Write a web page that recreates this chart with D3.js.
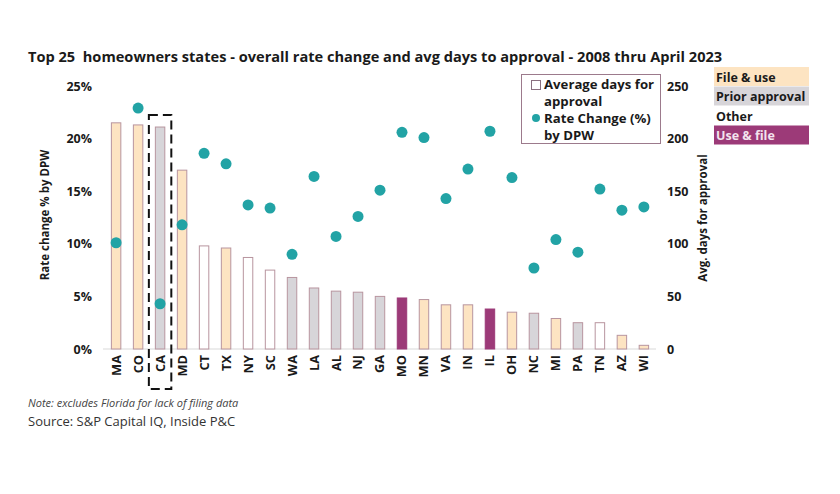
<!DOCTYPE html>
<html>
<head>
<meta charset="utf-8">
<script src="https://cdn.jsdelivr.net/npm/d3@7"></script>
<style>
  body { margin: 0; background: #fff; }
  text { font-family: "Open Sans", sans-serif; }
</style>
</head>
<body>
<div class="canvas"></div>
<script>
// data
const states = ['MA','CO','CA','MD','CT','TX','NY','SC','WA','LA','AL','NJ','GA','MO','MN','VA','IN','IL','OH','NC','MI','PA','TN','AZ','WI'];
const avgDays = [215,213,211,170,98,96,87,75,68,58,55,54,50,48.5,47,42,42,38,35,34,29,25,25,13,3.5];
const rateChange = [10.1,22.9,4.3,11.8,18.6,17.6,13.7,13.4,9.0,16.4,10.7,12.6,15.1,20.6,20.1,14.3,17.1,20.7,16.3,7.7,10.4,9.2,15.2,13.2,13.5];
const filing = ['File & use','File & use','Prior approval','File & use','Other','File & use','Other','Other','Prior approval','Prior approval','Prior approval','Prior approval','Prior approval','Use & file','File & use','File & use','File & use','Use & file','File & use','Prior approval','File & use','Prior approval','Other','File & use','File & use'];
const filingTypes = ['File & use','Prior approval','Other','Use & file'];
const filingColors = ['#fde4c2','#d7d5d9','#ffffff','#9c3a78'];
const rateTicks = [0,5,10,15,20,25];
const dayTicks = [0,50,100,150,200,250];

const svg = d3.select('.canvas')
    .append('svg')
        .attr('width',840)
        .attr('height',494);

const fill = d3.scaleOrdinal().domain(filingTypes).range(filingColors);

const x = d3.scaleBand()
    .domain(states)
    .range([105,655])
    .paddingInner(0.57)
    .paddingOuter(0.29);

const yRate = d3.scaleLinear().domain([0,25]).range([349,86]);
const yDays = d3.scaleLinear().domain([0,250]).range([349,86]);

// title
svg.append('text')
    .attr('x',28).attr('y',62)
    .attr('font-size',14.6).attr('font-weight',700).attr('fill','#1a1a1a')
    .attr('xml:space','preserve')
    .text('Top 25  homeowners states - overall rate change and avg days to approval - 2008 thru April 2023');

// baseline
svg.append('line')
    .attr('x1',103).attr('x2',656)
    .attr('y1',yRate(0)).attr('y2',yRate(0))
    .attr('stroke','#d9d9d9');

// bars
svg.selectAll('rect.bar')
    .data(states)
    .enter()
    .append('rect')
        .attr('class','bar')
        .attr('x', d => x(d))
        .attr('width', x.bandwidth())
        .attr('y', (d,i) => yDays(avgDays[i]))
        .attr('height', (d,i) => yDays(0) - yDays(avgDays[i]))
        .attr('fill', (d,i) => fill(filing[i]))
        .attr('stroke', (d,i) => filing[i] === 'Use & file' ? '#9c3a78' : '#b8959f')
        .attr('stroke-width',1);

// dots
svg.selectAll('circle.dot')
    .data(states)
    .enter()
    .append('circle')
        .attr('class','dot')
        .attr('cx', d => x(d) + x.bandwidth()/2)
        .attr('cy', (d,i) => yRate(rateChange[i]))
        .attr('r',5.5)
        .attr('fill','#22a3a5');

// left axis
const leftAxis = svg.append('g')
    .attr('transform','translate(92,0)')
    .call(d3.axisLeft(yRate).tickValues(rateTicks).tickSize(0).tickPadding(0).tickFormat(d => d + '%'));
leftAxis.select('.domain').remove();
leftAxis.selectAll('text')
    .attr('font-family','"Open Sans", sans-serif')
    .attr('font-size',12.5).attr('font-weight',700).attr('fill','#1a1a1a');

// right axis
const rightAxis = svg.append('g')
    .attr('transform','translate(667,0)')
    .call(d3.axisRight(yDays).tickValues(dayTicks).tickSize(0).tickPadding(0));
rightAxis.select('.domain').remove();
rightAxis.selectAll('text')
    .attr('font-family','"Open Sans", sans-serif')
    .attr('font-size',12.5).attr('font-weight',700).attr('fill','#1a1a1a');

// x axis labels
const xAxis = svg.append('g')
    .attr('transform','translate(0,355)')
    .call(d3.axisBottom(x).tickSize(0).tickPadding(0));
xAxis.select('.domain').remove();
xAxis.selectAll('text')
    .attr('font-family','"Open Sans", sans-serif')
    .attr('font-size',12.8).attr('font-weight',700).attr('fill','#1a1a1a')
    .attr('transform','rotate(-90)')
    .attr('text-anchor','end')
    .attr('dy','0.35em')
    .attr('y',0)
    .attr('x',0);

// axis titles
svg.append('text')
    .attr('transform','translate(49,215) rotate(-90)')
    .attr('text-anchor','middle')
    .attr('font-size',11.5).attr('font-weight',700).attr('fill','#1a1a1a')
    .text('Rate change % by DPW');

svg.append('text')
    .attr('transform','translate(707,218) rotate(-90)')
    .attr('text-anchor','middle')
    .attr('font-size',11.5).attr('font-weight',700).attr('fill','#1a1a1a')
    .text('Avg. days for approval');

// dashed box around CA
svg.append('rect')
    .attr('x', x('CA') - 6.5)
    .attr('width', x.bandwidth() + 13)
    .attr('y',115)
    .attr('height',274)
    .attr('fill','none')
    .attr('stroke','#111')
    .attr('stroke-width',2)
    .attr('stroke-dasharray','9,5');

// series legend
const lg = svg.append('g');
lg.append('rect')
    .attr('x',521.5).attr('y',74.5).attr('width',139).attr('height',69)
    .attr('fill','#fff').attr('stroke','#9c7a8c');
lg.append('rect')
    .attr('x',531.5).attr('y',80.5).attr('width',9).attr('height',9)
    .attr('fill','#fff').attr('stroke','#8a7080');
lg.append('circle')
    .attr('cx',536).attr('cy',118).attr('r',4)
    .attr('fill','#22a3a5');
const legendLines = [['Average days for',89],['approval',106],['Rate Change (%)',123],['by DPW',140]];
lg.selectAll('text')
    .data(legendLines)
    .enter()
    .append('text')
        .attr('x',544).attr('y',d => d[1])
        .attr('font-size',13.2).attr('font-weight',700).attr('fill','#1a1a1a')
        .text(d => d[0]);

// filing type legend
const fl = svg.append('g');
fl.selectAll('rect')
    .data(filingTypes)
    .enter()
    .append('rect')
        .attr('x',714).attr('y',(d,i) => 67 + i*19.5)
        .attr('width',95).attr('height',19)
        .attr('fill',d => fill(d));
fl.selectAll('text')
    .data(filingTypes)
    .enter()
    .append('text')
        .attr('x',716).attr('y',(d,i) => 81.5 + i*19.5)
        .attr('font-size',12.5).attr('font-weight',700)
        .attr('fill',d => d === 'Use & file' ? '#f3e3ee' : '#1a1a1a')
        .text(d => d);

// notes
svg.append('text')
    .attr('x',28).attr('y',407)
    .attr('font-size',11).attr('font-style','italic').attr('fill','#444')
    .text('Note: excludes Florida for lack of filing data');
svg.append('text')
    .attr('x',28).attr('y',426)
    .attr('font-size',13).attr('fill','#333')
    .text('Source: S&P Capital IQ, Inside P&C');
</script>
</body>
</html>
